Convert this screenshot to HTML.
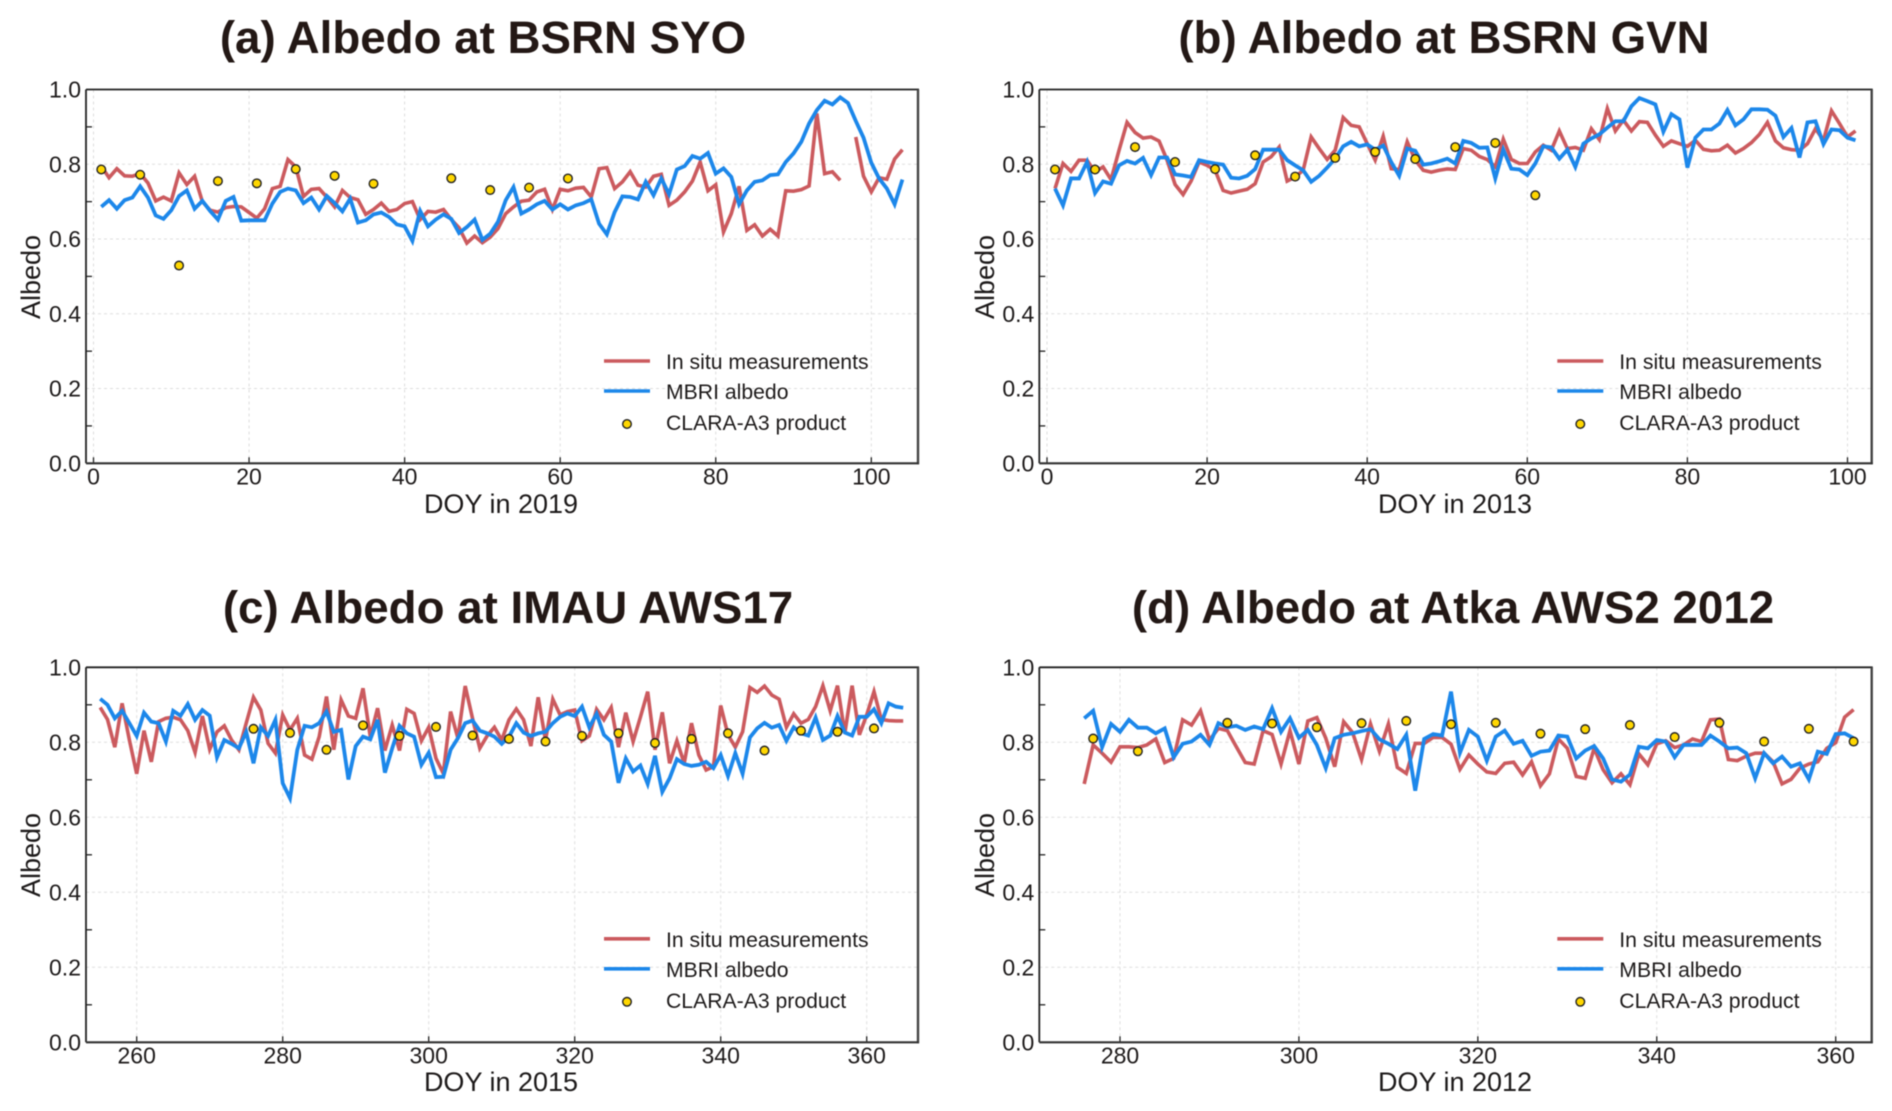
<!DOCTYPE html>
<html lang="en">
<head>
<meta charset="utf-8">
<title>Albedo comparison at four stations</title>
<style>
html,body{margin:0;padding:0;background:#fff;width:1892px;height:1111px;overflow:hidden}
svg{display:block;filter:blur(0.4px)}
text{font-family:"Liberation Sans",Arial,sans-serif;fill:#1d1a1a}
.title{font-size:45.7px;font-weight:700;fill:#231815;text-anchor:middle}
.axis-label{font-size:27px;text-anchor:middle}
.tick-label{font-size:23px}
.legend-text{font-size:21.2px}
</style>
</head>
<body>
<svg id="chart" xmlns="http://www.w3.org/2000/svg" width="1892" height="1111" viewBox="0 0 1892 1111">
  <text class="title" x="483" y="53">(a) Albedo at BSRN SYO</text>
  <text class="title" x="1444" y="53">(b) Albedo at BSRN GVN</text>
  <text class="title" x="508" y="623">(c) Albedo at IMAU AWS17</text>
  <text class="title" x="1453" y="623">(d) Albedo at Atka AWS2 2012</text>

  <text class="axis-label" x="501" y="513">DOY in 2019</text>
  <text class="axis-label" x="1455" y="513">DOY in 2013</text>
  <text class="axis-label" x="501" y="1091">DOY in 2015</text>
  <text class="axis-label" x="1455" y="1091">DOY in 2012</text>

  <text class="axis-label" transform="translate(40,277) rotate(-90)">Albedo</text>
  <text class="axis-label" transform="translate(994,277) rotate(-90)">Albedo</text>
  <text class="axis-label" transform="translate(40,855) rotate(-90)">Albedo</text>
  <text class="axis-label" transform="translate(994,855) rotate(-90)">Albedo</text>

  <g id="plots"></g>

  <g transform="translate(0,0)">
    <line x1="604" x2="650" y1="361" y2="361" stroke="#cb5a5e" stroke-width="3.6"/>
    <text class="legend-text" x="666" y="369">In situ measurements</text>
    <line x1="604" x2="650" y1="391" y2="391" stroke="#1c87ea" stroke-width="3.6"/>
    <text class="legend-text" x="666" y="399">MBRI albedo</text>
    <circle cx="627" cy="424" r="4.3" fill="#ffd700" stroke="#222" stroke-width="1.4"/>
    <text class="legend-text" x="666" y="430">CLARA-A3 product</text>
  </g>
  <g transform="translate(953.3,0)">
    <line x1="604" x2="650" y1="361" y2="361" stroke="#cb5a5e" stroke-width="3.6"/>
    <text class="legend-text" x="666" y="369">In situ measurements</text>
    <line x1="604" x2="650" y1="391" y2="391" stroke="#1c87ea" stroke-width="3.6"/>
    <text class="legend-text" x="666" y="399">MBRI albedo</text>
    <circle cx="627" cy="424" r="4.3" fill="#ffd700" stroke="#222" stroke-width="1.4"/>
    <text class="legend-text" x="666" y="430">CLARA-A3 product</text>
  </g>
  <g transform="translate(0,577.8)">
    <line x1="604" x2="650" y1="361" y2="361" stroke="#cb5a5e" stroke-width="3.6"/>
    <text class="legend-text" x="666" y="369">In situ measurements</text>
    <line x1="604" x2="650" y1="391" y2="391" stroke="#1c87ea" stroke-width="3.6"/>
    <text class="legend-text" x="666" y="399">MBRI albedo</text>
    <circle cx="627" cy="424" r="4.3" fill="#ffd700" stroke="#222" stroke-width="1.4"/>
    <text class="legend-text" x="666" y="430">CLARA-A3 product</text>
  </g>
  <g transform="translate(953.3,577.8)">
    <line x1="604" x2="650" y1="361" y2="361" stroke="#cb5a5e" stroke-width="3.6"/>
    <text class="legend-text" x="666" y="369">In situ measurements</text>
    <line x1="604" x2="650" y1="391" y2="391" stroke="#1c87ea" stroke-width="3.6"/>
    <text class="legend-text" x="666" y="399">MBRI albedo</text>
    <circle cx="627" cy="424" r="4.3" fill="#ffd700" stroke="#222" stroke-width="1.4"/>
    <text class="legend-text" x="666" y="430">CLARA-A3 product</text>
  </g>
</svg>
<script>
const yTicks = [0, 0.2, 0.4, 0.6, 0.8, 1.0];
const yMinorTicks = [0.1, 0.3, 0.5, 0.7, 0.9];

// Panel (a)
const aFirstDay = 1;
const aXTicks = [20, 40, 60, 80, 100];
const aInSitu = [.795,.764,.788,.769,.768,.775,.75,.702,.712,.702,.777,.746,.768,.70,.677,.672,.684,.687,.686,.671,.656,.681,.735,.741,.8125,.793,.714,.733,.735,.712,.686,.73,.711,.705,.666,.679,.696,.674,.679,.695,.70,.652,.674,.672,.679,.652,.63,.589,.608,.59,.605,.628,.668,.686,.701,.704,.726,.733,.679,.733,.729,.736,.738,.7125,.788,.791,.735,.753,.78,.744,.739,.768,.773,.69,.704,.726,.755,.806,.729,.745,.619,.668,.741,.623,.638,.608,.626,.608,.729,.728,.732,.742,.936,.775,.78,.757,null,.873,.768,.726,.764,.76,.814,.839];
const aMbri = [.686,.704,.681,.704,.711,.741,.711,.663,.654,.677,.715,.73,.681,.702,.675,.652,.702,.7125,.649,.65,.65,.65,.695,.726,.735,.73,.696,.711,.679,.715,.696,.674,.708,.644,.65,.666,.671,.659,.639,.634,.595,.675,.634,.652,.666,.654,.616,.632,.652,.598,.614,.646,.704,.739,.668,.679,.693,.702,.679,.693,.679,.69,.696,.706,.641,.6125,.672,.714,.7125,.706,.753,.717,.762,.72,.786,.795,.822,.815,.83,.775,.789,.766,.693,.73,.753,.757,.771,.773,.806,.829,.86,.909,.945,.97,.96,.979,.964,.916,.871,.804,.762,.735,.693,.759];
const aClaraDays = [1,6,11,16,21,26,31,36,46,51,56,61];
const aClara = [.786,.772,.529,.755,.749,.787,.769,.748,.7625,.731,.7375,.762];

// Panel (b)
const bFirstDay = 1;
const bXTicks = [20, 40, 60, 80, 100];
const bInSitu = [.735,.802,.781,.811,.811,.779,.793,.759,.8375,.912,.885,.87,.873,.862,.811,.746,.719,.755,.806,.797,.784,.73,.723,.728,.733,.748,.806,.82,.846,.755,.766,.784,.873,.842,.813,.8375,.925,.904,.9,.855,.811,.875,.788,.786,.86,.811,.784,.779,.784,.7875,.786,.842,.8375,.821,.8125,.793,.867,.813,.802,.802,.833,.851,.8375,.889,.842,.845,.8375,.895,.866,.949,.889,.918,.889,.914,.912,.878,.848,.8625,.855,.848,.864,.84,.836,.8375,.851,.83,.842,.858,.88,.912,.8625,.844,.839,.8375,.855,.895,.864,.943,.909,.873,.889];
const bMbri = [.735,.69,.762,.762,.806,.723,.754,.748,.797,.809,.802,.817,.771,.818,.818,.773,.77,.766,.811,.806,.802,.799,.764,.762,.769,.787,.839,.839,.839,.811,.797,.784,.753,.769,.791,.815,.848,.86,.848,.853,.839,.85,.806,.769,.842,.836,.799,.802,.808,.815,.802,.8625,.857,.844,.845,.762,.839,.788,.786,.771,.802,.848,.845,.815,.839,.793,.855,.869,.88,.898,.915,.915,.955,.977,.969,.96,.887,.934,.92,.791,.871,.893,.893,.909,.945,.904,.92,.947,.947,.946,.93,.873,.897,.818,.912,.915,.854,.893,.891,.871,.864];
const bClaraDays = [1,6,11,16,21,26,31,36,41,46,51,56,61];
const bClara = [.786,.786,.846,.806,.787,.824,.767,.817,.833,.814,.846,.857,.717];

// Panel (c)
const cFirstDay = 255;
const cXTicks = [260, 280, 300, 320, 340, 360];
const cInSitu = [.893,.861,.787,.904,.806,.716,.831,.748,.855,.864,.867,.86,.831,.773,.87,.781,.828,.844,.806,.78,.851,.92,.886,.797,.771,.873,.833,.864,.766,.755,.815,.922,.78,.913,.87,.864,.944,.815,.891,.778,.846,.778,.888,.877,.804,.84,.757,.717,.882,.811,.95,.864,.784,.817,.84,.806,.86,.889,.86,.79,.92,.806,.915,.873,.882,.886,.804,.817,.888,.86,.893,.787,.879,.802,.867,.935,.78,.88,.744,.804,.744,.851,.766,.726,.735,.898,.82,.787,.828,.946,.933,.95,.926,.915,.84,.876,.851,.861,.895,.951,.884,.951,.824,.951,.82,.873,.935,.861,.858,.857,.857];
const cMbri = [.916,.9,.864,.884,.851,.817,.879,.855,.851,.802,.884,.871,.902,.86,.886,.871,.76,.806,.796,.784,.828,.744,.84,.817,.86,.691,.651,.78,.844,.84,.851,.882,.828,.833,.701,.79,.815,.808,.86,.719,.784,.844,.824,.815,.74,.772,.707,.708,.78,.811,.851,.858,.831,.824,.815,.796,.815,.851,.826,.817,.824,.828,.851,.868,.877,.87,.895,.84,.876,.82,.802,.692,.757,.722,.738,.689,.764,.668,.704,.755,.742,.737,.74,.748,.731,.766,.71,.771,.716,.813,.837,.852,.839,.846,.804,.84,.824,.818,.866,.806,.818,.87,.826,.818,.868,.868,.888,.851,.904,.895,.892];
const cClaraDays = [276,281,286,291,296,301,306,311,316,321,326,331,336,341,346,351,356,361];
const cClara = [.836,.825,.78,.845,.817,.841,.818,.809,.802,.817,.824,.798,.809,.824,.778,.831,.828,.837];

// Panel (d)
const dFirstDay = 276;
const dXTicks = [280, 300, 320, 340, 360];
const dInSitu = [.689,.793,.771,.747,.788,.788,.786,.793,.809,.746,.757,.86,.846,.884,.806,.837,.831,.788,.746,.742,.831,.821,.742,.831,.742,.857,.866,.811,.735,.855,.826,.754,.849,.776,.849,.733,.717,.797,.797,.813,.813,.795,.728,.766,.742,.721,.717,.744,.747,.713,.748,.684,.716,.809,.784,.709,.704,.784,.727,.692,.716,.687,.769,.74,.796,.804,.786,.793,.809,.802,.86,.862,.754,.751,.763,.771,.771,.748,.689,.701,.731,.742,.748,.784,.799,.867,.887];
const dMbri = [.864,.884,.787,.849,.828,.86,.839,.839,.824,.837,.76,.796,.802,.82,.793,.851,.84,.844,.833,.842,.835,.891,.828,.864,.812,.833,.793,.731,.811,.82,.824,.83,.835,.808,.796,.782,.82,.671,.809,.822,.818,.935,.772,.833,.815,.751,.815,.831,.796,.804,.764,.775,.778,.818,.815,.757,.778,.79,.757,.701,.695,.714,.788,.784,.806,.802,.76,.793,.793,.793,.818,.802,.784,.786,.771,.704,.771,.744,.762,.735,.744,.701,.775,.769,.822,.824,.811];
const dClaraDays = [277,282,292,297,302,307,312,317,322,327,332,337,342,347,352,357,362];
const dClara = [.81,.776,.852,.85,.84,.851,.857,.848,.852,.823,.835,.846,.814,.852,.802,.836,.802];

const NS = 'http://www.w3.org/2000/svg';
const plots = document.getElementById('plots');

function mk(parent, tag, attrs) {
  const el = document.createElementNS(NS, tag);
  for (const k in attrs) el.setAttribute(k, attrs[k]);
  parent.appendChild(el);
  return el;
}

function linearScale(d0, r0, d1, r1) {
  return function (v) { return r0 + (v - d0) * (r1 - r0) / (d1 - d0); };
}

function drawPanel(id, frame, xTicks, firstDay, inSitu, mbri, claraDays, clara) {
  const x = linearScale(frame.x0, frame.px0, frame.x1, frame.px1);
  const y = linearScale(0, frame.bottom, 1, frame.top);
  const g = mk(plots, 'g', {});
  
  

  yTicks.forEach(function (t) {
    if (t > 0 && t < 1) {
      const gl = mk(g, 'line', {x1: frame.left, x2: frame.right, y1: y(t), y2: y(t), stroke: '#dedede', 'stroke-width': 1, 'stroke-dasharray': '3 3'});
      
      
    }
    const lab = mk(g, 'text', {x: frame.left - 5, y: y(t) + 8, 'text-anchor': 'end', class: 'tick-label'});
    lab.textContent = t.toFixed(1);
    
    
  });
  yMinorTicks.forEach(function (t) {
    const tk = mk(g, 'line', {x1: frame.left, x2: frame.left + 6, y1: y(t), y2: y(t), stroke: '#222', 'stroke-width': 1.3});
    
    
  });
  xTicks.forEach(function (t) {
    const gl = mk(g, 'line', {x1: x(t), x2: x(t), y1: frame.top, y2: frame.bottom, stroke: '#dedede', 'stroke-width': 1, 'stroke-dasharray': '3 3'});
    
    
    const tk = mk(g, 'line', {x1: x(t), x2: x(t), y1: frame.bottom - 6, y2: frame.bottom, stroke: '#222', 'stroke-width': 1.3});
    
    
    const lab = mk(g, 'text', {x: x(t), y: frame.bottom + 21, 'text-anchor': 'middle', class: 'tick-label'});
    lab.textContent = String(t);
    
    
  });
  // first gridline near the start of a DOY axis at day 0 for the panels that begin at 1
  if (frame.x0 === 0) {
    const gl0 = mk(g, 'line', {x1: x(0), x2: x(0), y1: frame.top, y2: frame.bottom, stroke: '#dedede', 'stroke-width': 1, 'stroke-dasharray': '3 3'});
    
    
    const tk0 = mk(g, 'line', {x1: x(0), x2: x(0), y1: frame.bottom - 6, y2: frame.bottom, stroke: '#222', 'stroke-width': 1.3});
    
    
    const lab0 = mk(g, 'text', {x: x(0), y: frame.bottom + 21, 'text-anchor': 'middle', class: 'tick-label'});
    lab0.textContent = '0';
    
    
  }

  function pathFor(values) {
    let d = '', pen = false;
    values.forEach(function (v, i) {
      if (v === null) { pen = false; return; }
      d += (pen ? 'L' : 'M') + x(firstDay + i).toFixed(2) + ' ' + y(v).toFixed(2);
      pen = true;
    });
    return d;
  }
  const redLine = mk(g, 'path', {d: pathFor(inSitu), fill: 'none', stroke: '#cb5a5e', 'stroke-width': 3.6, 'stroke-linejoin': 'miter'});
  
  
  const blueLine = mk(g, 'path', {d: pathFor(mbri), fill: 'none', stroke: '#1c87ea', 'stroke-width': 3.8, 'stroke-linejoin': 'miter'});
  
  

  claraDays.forEach(function (day, i) {
    const c = mk(g, 'circle', {cx: x(day), cy: y(clara[i]), r: 4.3, fill: '#ffd700', stroke: '#222', 'stroke-width': 1.4});
    
    
  });

  const top = mk(g, 'line', {x1: frame.left, x2: frame.right + 1, y1: frame.top, y2: frame.top, stroke: '#222', 'stroke-width': 1.8});
  
  
  const left = mk(g, 'line', {x1: frame.left, x2: frame.left, y1: frame.top, y2: frame.bottom, stroke: '#222', 'stroke-width': 1.8});
  
  
  const right = mk(g, 'line', {x1: frame.right, x2: frame.right, y1: frame.top, y2: frame.bottom + 1, stroke: '#444', 'stroke-width': 2.4});
  
  
  const bottom = mk(g, 'line', {x1: frame.left, x2: frame.right + 1, y1: frame.bottom, y2: frame.bottom, stroke: '#333', 'stroke-width': 2.2});
  
  
}

drawPanel('a', {left: 86, right: 918, top: 89.5, bottom: 463.3, x0: 0, px0: 93.5, x1: 100, px1: 871.3}, aXTicks, aFirstDay, aInSitu, aMbri, aClaraDays, aClara);
drawPanel('b', {left: 1039.3, right: 1871.7, top: 89.5, bottom: 463.3, x0: 0, px0: 1047, x1: 100, px1: 1847.5}, bXTicks, bFirstDay, bInSitu, bMbri, bClaraDays, bClara);
drawPanel('c', {left: 86, right: 918, top: 667.3, bottom: 1042.3, x0: 260, px0: 136.7, x1: 360, px1: 866.7}, cXTicks, cFirstDay, cInSitu, cMbri, cClaraDays, cClara);
drawPanel('d', {left: 1039.3, right: 1871.7, top: 667.3, bottom: 1042.3, x0: 280, px0: 1120, x1: 360, px1: 1835.7}, dXTicks, dFirstDay, dInSitu, dMbri, dClaraDays, dClara);
</script>
</body>
</html>
